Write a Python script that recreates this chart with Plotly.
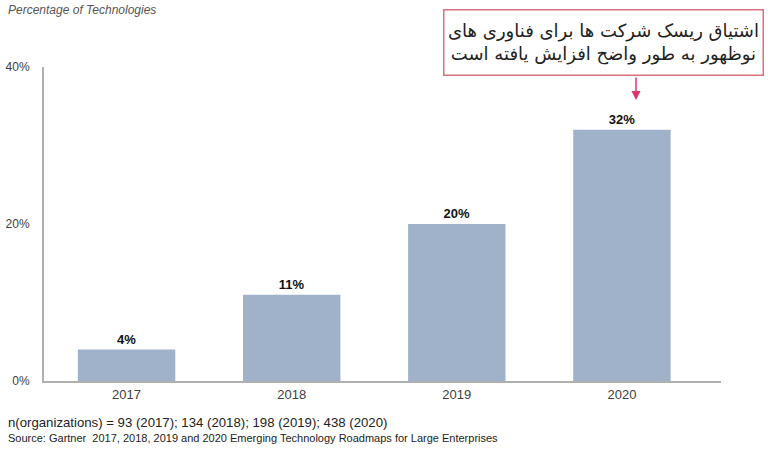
import plotly.graph_objects as go

years = ["2017", "2018", "2019", "2020"]
values = [4, 11, 20, 32]
value_labels = ["4%", "11%", "20%", "32%"]
y_ticks = [0, 20, 40]
y_tick_labels = ["0%", "20%", "40%"]
title_text = "Percentage of Technologies"
note_text = "n(organizations) = 93 (2017); 134 (2018); 198 (2019); 438 (2020)"
source_text = "Source: Gartner  2017, 2018, 2019 and 2020 Emerging Technology Roadmaps for Large Enterprises"
callout_text = "اشتیاق ریسک شرکت ها برای فناوری های<br>نوظهور به طور واضح افزایش یافته است"

L, R, T, B = 44, 47, 67, 70
PW, PH = 768 - L - R, 451 - T - B

def px(xp):
    return (xp - L) / PW

def py(yp):
    return (451 - B - yp) / PH

fig = go.Figure()
fig.add_trace(go.Bar(
    x=list(range(len(years))), y=values,
    marker=dict(color="#a0b2ca", line=dict(width=0)),
    width=0.59,
    text=value_labels, textposition="outside",
    textfont=dict(family="Liberation Sans, Arial", size=13, color="#111111", weight="bold"),
    cliponaxis=False,
))

fig.update_layout(
    width=768, height=451,
    margin=dict(l=L, r=R, t=T, b=B, autoexpand=False),
    paper_bgcolor="white", plot_bgcolor="white",
    showlegend=False,
    font=dict(family="Liberation Sans, Arial", size=12, color="#404040"),
    xaxis=dict(
        range=[-0.5, 3.6], tickmode="array",
        tickvals=list(range(len(years))), ticktext=years,
        showgrid=False, zeroline=False, showline=True, automargin=False,
        linecolor="#b0b0b0", linewidth=2, ticks="",
        tickfont=dict(size=13, color="#404040"),
    ),
    yaxis=dict(
        range=[0, 40], tickmode="array", tickvals=y_ticks, ticktext=y_tick_labels,
        showgrid=False, zeroline=False, showline=True, automargin=False,
        linecolor="#b0b0b0", linewidth=2, ticks="", ticklabelstandoff=10,
        tickfont=dict(size=12, color="#404040"),
    ),
)

fig.add_annotation(
    xref="paper", yref="paper", x=px(6), y=py(10),
    xanchor="left", yanchor="middle", showarrow=False,
    text="<i>" + title_text + "</i>",
    font=dict(family="Liberation Sans, Arial", size=12, color="#555555"),
)
fig.add_annotation(
    xref="paper", yref="paper", x=px(6), y=py(422),
    xanchor="left", yanchor="middle", showarrow=False,
    text=note_text,
    font=dict(family="Liberation Sans Narrow, Liberation Sans, Arial", size=13.2, color="#222222"),
)
fig.add_annotation(
    xref="paper", yref="paper", x=px(6), y=py(438),
    xanchor="left", yanchor="middle", showarrow=False,
    text=source_text,
    font=dict(family="Liberation Sans Narrow, Liberation Sans, Arial", size=11, color="#222222"),
)
# callout box
fig.add_annotation(
    xref="paper", yref="paper", x=px(603), y=py(42.5),
    xanchor="center", yanchor="middle", showarrow=False,
    text=callout_text,
    font=dict(family="DejaVu Sans, Noto Sans", size=18, color="#222222"),
    bordercolor="#d9707c", borderwidth=1.5, borderpad=4,
    bgcolor="white", align="center", width=310, height=56,
)
# arrow
fig.add_annotation(
    xref="paper", yref="paper", x=px(636), y=py(100),
    ax=0, ay=-24, axref="pixel", ayref="pixel",
    text="", showarrow=True, arrowhead=2, arrowsize=1.2, arrowwidth=1.5,
    arrowcolor="#e0336b",
)

fig.write_html(
    "out.html",
    config={"displayModeBar": False},
    post_script="document.body.style.margin='0';document.body.style.padding='0';",
)
